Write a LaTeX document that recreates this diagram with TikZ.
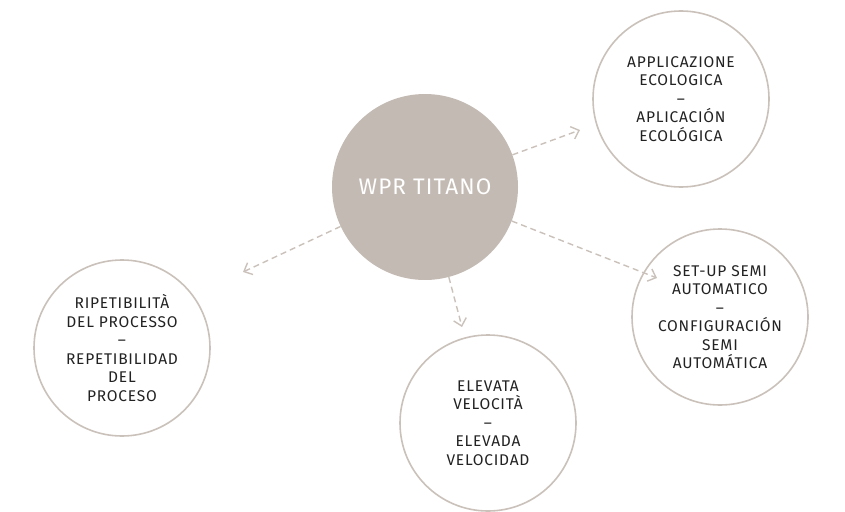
\documentclass[tikz,border=0pt]{standalone}
\usepackage{fontspec}
\setmainfont{Fira Sans}[LetterSpace=5]
\usetikzlibrary{arrows.meta}
\definecolor{hub}{HTML}{C3BAB3}
\definecolor{rim}{HTML}{C9C1BA}
\definecolor{ink}{HTML}{222222}
\tikzset{
  hubnode/.style={circle, fill=hub, minimum size=186pt, inner sep=0pt, text=white, font=\fontsize{22.5}{26}\selectfont},
  leaf/.style={circle, draw=rim, line width=1.6pt, minimum size=176pt, inner sep=0pt, align=center, text=ink, font=\fontsize{15.5}{18.5}\selectfont},
  link/.style={draw=rim, line width=1.4pt, dash pattern=on 6pt off 4pt, -{Straight Barb[length=7pt,width=13pt,line width=1.4pt]}, shorten >=0pt}
}
\begin{document}
\begin{tikzpicture}[x=1pt,y=-1pt]
\useasboundingbox (0,0) rectangle (845,511);
\node[hubnode] (hub) at (425,187) {WPR TITANO};
\node[leaf] (eco) at (681,99) {APPLICAZIONE\\ECOLOGICA\\–\\APLICACIÓN\\ECOLÓGICA};
\node[leaf] (rep) at (122,348) {RIPETIBILITÀ\\DEL PROCESSO\\–\\REPETIBILIDAD\\DEL\\PROCESO};
\node[leaf] (vel) at (488,423) {ELEVATA\\VELOCITÀ\\–\\ELEVADA\\VELOCIDAD};
\node[leaf] (set) at (720,317) {SET-UP SEMI\\AUTOMATICO\\–\\CONFIGURACIÓN\\SEMI\\AUTOMÁTICA};
\coordinate (t1) at (580,130);
\coordinate (t2) at (243,272);
\coordinate (t3) at (462,327);
\coordinate (t4) at (657,278);
\draw[link] (hub) -- (t1);
\draw[link] (hub) -- (t2);
\draw[link] (hub) -- (t3);
\draw[link] (hub) -- (t4);
\end{tikzpicture}
\end{document}
